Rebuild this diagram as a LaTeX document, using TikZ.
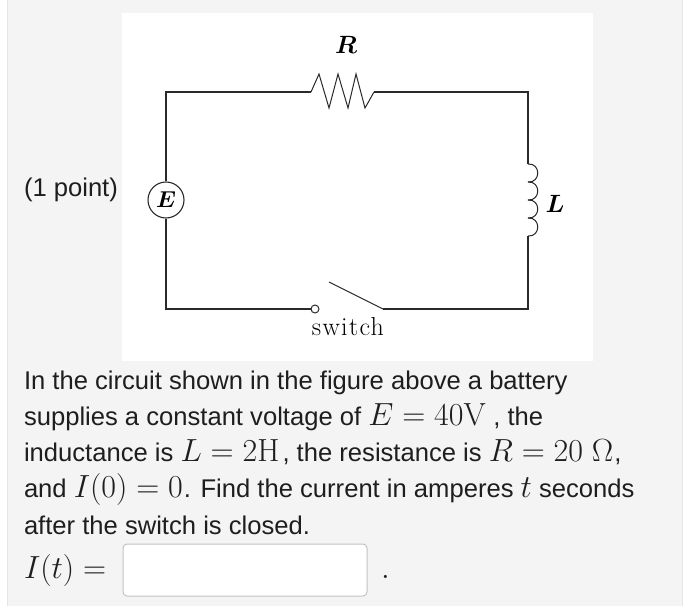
\documentclass[tikz,border=0pt]{standalone}
\usepackage{fix-cm}
\usepackage{amsmath,amssymb}
\usepackage[no-math]{fontspec}
\setmainfont{Liberation Sans}
\newfontfamily\lmfont[LetterSpace=5]{Latin Modern Roman}
\newcommand{\mth}[1]{{\fontsize{32}{32}\selectfont$#1$}}
\definecolor{panel}{HTML}{F4F4F4}
\definecolor{edge}{HTML}{E6E6E6}
\definecolor{ink}{HTML}{1E1E1E}
\definecolor{wire}{HTML}{2A2A2A}
\tikzset{
   wireline/.style={draw=wire,line width=1.2pt,line join=miter},
   txtline/.style={anchor=base west,inner sep=0pt,outer sep=0pt,text=ink,font=\fontsize{25.6}{30}\selectfont},
   partlabel/.style={inner sep=0pt,text=black,font=\fontsize{23}{26}\selectfont\boldmath}
}
\begin{document}
\begin{tikzpicture}
   [x=1pt,y=-1pt]
   \useasboundingbox (0, 0) rectangle (700, 607);
   \fill[panel] (7, 0) rectangle (682, 606);
   \draw[edge,line width=0.8pt] (7, 0) -- (7, 606);
   \draw[edge,line width=0.8pt] (682, 0) -- (682, 606);
   \fill[white] (122, 13) rectangle (593, 361);

   % circuit corners
   \coordinate (tl) at (166, 92);
   \coordinate (tr) at (528, 92);
   \coordinate (bl) at (166, 309);
   \coordinate (br) at (528, 309);
   \coordinate (resin) at (311, 92);
   \coordinate (resout) at (374, 92);
   \coordinate (coilin) at (528, 164);
   \coordinate (coilout) at (528, 236);
   \coordinate (bladeend) at (329, 282);
   \coordinate (bladefoot) at (383, 309);

   \node[circle,draw=wire,line width=1.1pt,minimum size=36pt,inner sep=0pt] (src) at (166, 200) {};
   \node[partlabel] (srclabel) at (src.center) {$E$};
   \node[circle,draw=wire,line width=1pt,minimum size=8pt,inner sep=0pt] (term) at (315, 309) {};

   \draw[wireline] (src.north) -- (tl) -- (resin);
   \draw[wireline] (resout) -- (tr) -- (coilin);
   \draw[wireline] (coilout) -- (br) -- (bladefoot);
   \draw[wireline] (src.south) -- (bl) -- (term.west);
   \draw[wire,line width=1pt] (bladeend) -- (bladefoot);

   % resistor
   \draw[wireline,line width=1pt] (resin) -- (319, 74) -- (329, 108) -- (338, 74) -- (348, 108)
      -- (356, 74) -- (365, 108) -- (resout);

   % inductor
   \foreach \y in {164, 182, 200, 218}
      \draw[wireline,line width=1pt] (528, \y) .. controls (541, \y-1) and (541, \y+19) .. (528, \y+18);

   \node[partlabel,font=\fontsize{25}{28}\selectfont\boldmath] (rlabel) at (346, 45) {$R$};
   \node[partlabel,font=\fontsize{25}{28}\selectfont\boldmath] (llabel) at (555, 204) {$L$};
   \node[inner sep=0pt,text=black,font=\lmfont\fontsize{26}{30}\selectfont] (swlabel) at (348, 327) {switch};

   \node[txtline] (pts) at (24, 196) {(1 point)};
   \node[txtline] (ln1) at (24, 389) {In the circuit shown in the figure above a battery};
   \node[txtline] (ln2) at (24, 425) {supplies a constant voltage of \mth{E=40\mathrm{V}} , the};
   \node[txtline] (ln3) at (24, 461) {inductance is \mth{L=2\mathrm{H}}\kern3pt, the resistance is \mth{R=20\;\Omega}\kern1pt,};
   \node[txtline] (ln4) at (24, 497) {and \mth{I(0)=0}\kern1pt. Find the current in amperes \mth{t} seconds};
   \node[txtline] (ln5) at (24, 534) {after the switch is closed.};
   \node[txtline] (ans) at (24, 578) {\mth{I(t)=}};
   \node[draw=edge!85!black,fill=white,line width=1pt,rounded corners=4pt,minimum width=244pt,minimum height=52pt,
      inner sep=0pt] (box) at (245, 570) {};
   \node[txtline] (dot) at (381, 578) {\mth{.}};
\end{tikzpicture}
\end{document}
